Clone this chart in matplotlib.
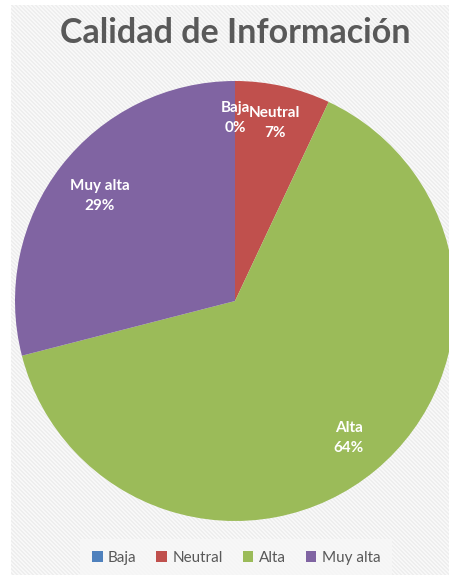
import numpy as np
import matplotlib
matplotlib.use("Agg")
import matplotlib.pyplot as plt
from matplotlib.patches import Patch

# Data
categories = ["Baja", "Neutral", "Alta", "Muy alta"]
shares = [0, 7, 64, 29]
colors = ["#4F81BD", "#C0504D", "#9BBB59", "#8064A2"]
title = "Calidad de Información"

# radial position of each value label (fraction of radius)
label_radius = [0.83, 0.83, 0.81, 0.78]

W, H, DPI = 449, 575, 100
fig = plt.figure(figsize=(W / DPI, H / DPI), dpi=DPI)

# Striped light-gray background panel
bg = fig.add_axes([0, 0, 1, 1])
yy, xx = np.mgrid[0:H, 0:W]
stripe = ((xx - yy) % 4) < 1.5
img = np.where(stripe[..., None], 0.975, 0.935) * np.ones((H, W, 3))
img[:, :11] = 1.0
img[:5, :] = 1.0
bg.imshow(img, interpolation="bilinear", aspect="auto", extent=(0, W, H, 0))
bg.set_xlim(0, W)
bg.set_ylim(H, 0)
bg.axis("off")

# Pie
cx, cy, r = 235, 301, 220
ax = fig.add_axes([(cx - r) / W, (H - cy - r) / H, 2 * r / W, 2 * r / H])
ax.pie(shares, colors=colors, startangle=90, counterclock=False, radius=1,
       wedgeprops=dict(linewidth=0))
ax.set_xlim(-1, 1)
ax.set_ylim(-1, 1)
ax.set_aspect("equal")
ax.axis("off")

total = float(sum(shares))
cum = 0.0
for name, v, rf in zip(categories, shares, label_radius):
    mid = np.deg2rad(90 - 360 * (cum + v / 2) / total)
    cum += v
    ax.text(rf * np.cos(mid), rf * np.sin(mid), f"{name}\n{v:.0f}%",
            ha="center", va="center", color="white", fontsize=11,
            fontweight="bold", family="Lato", linespacing=1.55)

fig.text(235 / W, 1 - 33 / H, title, ha="center", va="center",
         fontsize=24.5, fontweight="bold", family="Lato", color="#595959")

handles = [Patch(facecolor=c, edgecolor="none") for c in colors]
leg = fig.legend(handles, categories, ncol=4, loc="center",
                 bbox_to_anchor=(236 / W, 1 - 558 / H), frameon=True,
                 prop=dict(family="Lato", size=11),
                 handlelength=0.7, handleheight=0.7, handletextpad=0.35,
                 columnspacing=1.3, borderpad=0.5)
leg.get_frame().set_facecolor("#F7F7F7")
leg.get_frame().set_edgecolor("none")
leg.get_frame().set_boxstyle("square")
for t in leg.get_texts():
    t.set_color("#595959")

fig.savefig("out.png", dpi=DPI)
